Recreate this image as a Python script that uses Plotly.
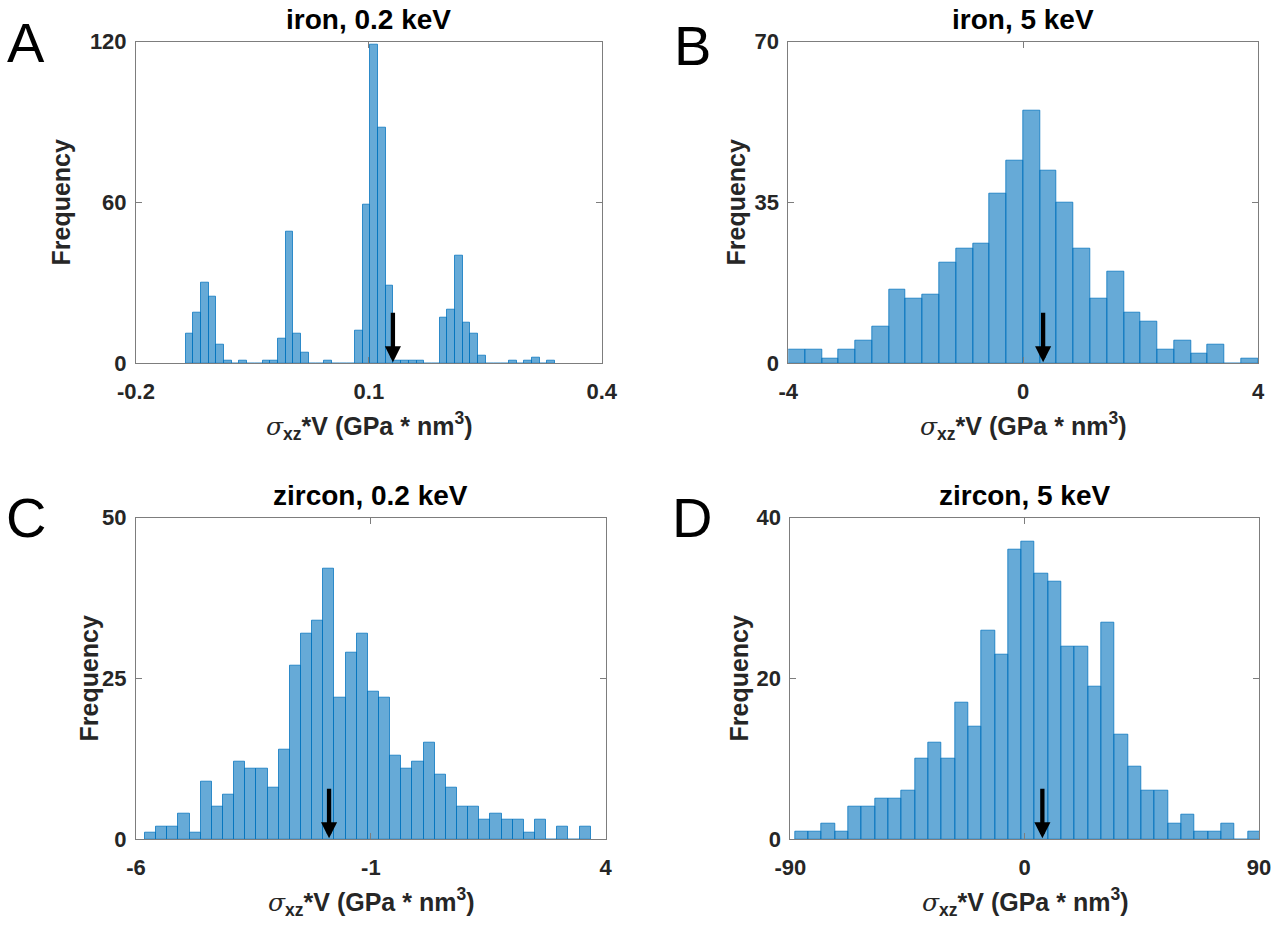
import numpy as np
import plotly.graph_objects as go

# ---------------- data ----------------
# A: iron, 0.2 keV
a_counts = [11, 19, 30, 25, 7, 1, 0, 1, 0, 0, 1, 1, 9, 49, 11, 4, 0, 0, 1, 0, 0, 0, 12, 59,
            119, 88, 29, 1, 1, 1, 1, 0, 0, 17, 20, 40, 15, 11, 3, 0, 0, 0, 1, 0, 1, 2, 0, 1]
a_start, a_width = -0.1361, 0.00992
a_arrow = 0.131
a_xticks, a_xlabels = [-0.2, 0.1, 0.4], ["-0.2", "0.1", "0.4"]
a_yticks = [0, 60, 120]

# B: iron, 5 keV
b_counts = [3, 3, 1, 3, 5, 8, 16, 14, 15, 22, 25, 26, 37, 44, 55, 42, 35, 25, 14, 20, 11, 9,
            3, 5, 2, 4, 0, 1]
b_start, b_width = -4.0, 4.0 / 14
b_arrow = 0.34
b_xticks, b_xlabels = [-4, 0, 4], ["-4", "0", "4"]
b_yticks = [0, 35, 70]

# C: zircon, 0.2 keV
c_counts = [1, 2, 2, 4, 1, 9, 5, 7, 12, 11, 11, 8, 14, 27, 32, 34, 42, 22, 29, 32, 23, 22,
            13, 11, 12, 15, 10, 8, 5, 5, 3, 4, 3, 3, 1, 3, 0, 2, 0, 2]
c_start, c_width = -5.808, 0.2372
c_arrow = -1.89
c_xticks, c_xlabels = [-6, -1, 4], ["-6", "-1", "4"]
c_yticks = [0, 25, 50]

# D: zircon, 5 keV
d_counts = [1, 1, 2, 1, 4, 4, 5, 5, 6, 10, 12, 10, 17, 14, 26, 23, 36, 37, 33, 32, 24, 24,
            19, 27, 13, 9, 6, 6, 2, 3, 1, 1, 2, 0, 1]
d_start, d_width = -88.2, 5.116
d_arrow = 6.8
d_xticks, d_xlabels = [-90, 0, 90], ["-90", "0", "90"]
d_yticks = [0, 20, 40]

titles = ["iron, 0.2 keV", "iron, 5 keV", "zircon, 0.2 keV", "zircon, 5 keV"]
letters = ["A", "B", "C", "D"]
ylabel = "Frequency"
xlabel = ("<span style=\"font-family:'DejaVu Serif';font-weight:normal\"><i>σ</i></span>"
          "<sub>xz</sub>*V (GPa * nm<sup>3</sup>)")

panels = [
    (a_counts, a_start, a_width, a_arrow, a_xticks, a_xlabels, a_yticks),
    (b_counts, b_start, b_width, b_arrow, b_xticks, b_xlabels, b_yticks),
    (c_counts, c_start, c_width, c_arrow, c_xticks, c_xlabels, c_yticks),
    (d_counts, d_start, d_width, d_arrow, d_xticks, d_xlabels, d_yticks),
]

# ---------------- layout geometry (pixels) ----------------
W, H = 1287, 926
# plot boxes: left, right, top, bottom
boxes = [
    (136.0, 601.7, 41.7, 363.3),
    (788.3, 1258.0, 41.7, 363.3),
    (136.0, 605.7, 517.7, 839.3),
    (790.3, 1259.0, 517.7, 839.3),
]
ylabel_x = [61, 736, 88, 738]
letter_pos = [(26, 42), (692, 45), (26, 517), (692, 517)]


def px(x):
    return x / W


def py(y):
    return 1 - y / H


FONT = "Liberation Sans, Arial, sans-serif"
AXC = "rgb(125,125,125)"
TXT = "#262626"

fig = go.Figure()
annotations = []
layout = {}

for i, (counts, start, width, arrow_x, xt, xl, yt) in enumerate(panels):
    counts = np.asarray(counts, dtype=float)
    centers = start + width * (np.arange(len(counts)) + 0.5)
    xa = "x" if i == 0 else f"x{i+1}"
    ya = "y" if i == 0 else f"y{i+1}"
    fig.add_trace(go.Bar(
        x=centers, y=counts, width=width, xaxis=xa, yaxis=ya,
        marker=dict(color="rgba(0,114,189,0.6)",
                    line=dict(color="rgba(0,114,189,0.75)", width=1)),
        showlegend=False, hoverinfo="x+y",
    ))
    l, r, t, b = boxes[i]
    common = dict(showline=True, linecolor=AXC, linewidth=1, mirror="ticks",
                  ticks="inside", ticklen=6, tickcolor=AXC, tickwidth=1,
                  showgrid=False, zeroline=False, automargin=False,
                  tickfont=dict(family=FONT, size=22, color=TXT, weight="bold"))
    layout["xaxis" if i == 0 else f"xaxis{i+1}"] = dict(
        common, domain=[px(l), px(r)], anchor=ya,
        range=[xt[0], xt[-1]], tickvals=xt, ticktext=xl, ticklabelstandoff=8)
    layout["yaxis" if i == 0 else f"yaxis{i+1}"] = dict(
        common, domain=[py(b), py(t)], anchor=xa,
        range=[yt[0], yt[-1]], tickvals=yt, ticktext=[str(v) for v in yt],
        ticklabelstandoff=4)

    cx = (l + r) / 2
    # title
    annotations.append(dict(text=titles[i], x=px(cx), y=py(t - 22), xref="paper", yref="paper",
                            showarrow=False, xanchor="center", yanchor="middle",
                            font=dict(family=FONT, size=28, color="black", weight="bold")))
    # x label
    annotations.append(dict(text=xlabel, x=px(cx), y=py(b + 63), xref="paper", yref="paper",
                            showarrow=False, xanchor="center", yanchor="middle",
                            font=dict(family=FONT, size=25, color=TXT, weight="bold")))
    # y label
    annotations.append(dict(text=ylabel, x=px(ylabel_x[i]), y=py((t + b) / 2),
                            xref="paper", yref="paper", textangle=-90,
                            showarrow=False, xanchor="center", yanchor="middle",
                            font=dict(family=FONT, size=25, color=TXT, weight="bold")))
    # panel letter
    lx, ly = letter_pos[i]
    annotations.append(dict(text=letters[i], x=px(lx), y=py(ly), xref="paper", yref="paper",
                            showarrow=False, xanchor="center", yanchor="middle",
                            font=dict(family=FONT, size=56, color="black")))
    # arrow
    annotations.append(dict(text="", x=arrow_x, y=0, xref=xa, yref=ya,
                            ax=0, ay=-52, axref="pixel", ayref="pixel",
                            showarrow=True, arrowhead=2, arrowsize=0.75, arrowwidth=4.3,
                            arrowcolor="black", standoff=1))

fig.update_layout(
    width=W, height=H,
    margin=dict(l=0, r=0, t=0, b=0, pad=0, autoexpand=False),
    paper_bgcolor="white", plot_bgcolor="white",
    annotations=annotations, bargap=0,
    **layout,
)

fig.write_html("out.html",
               config={"displayModeBar": False, "responsive": False},
               post_script="document.body.style.margin='0';")
